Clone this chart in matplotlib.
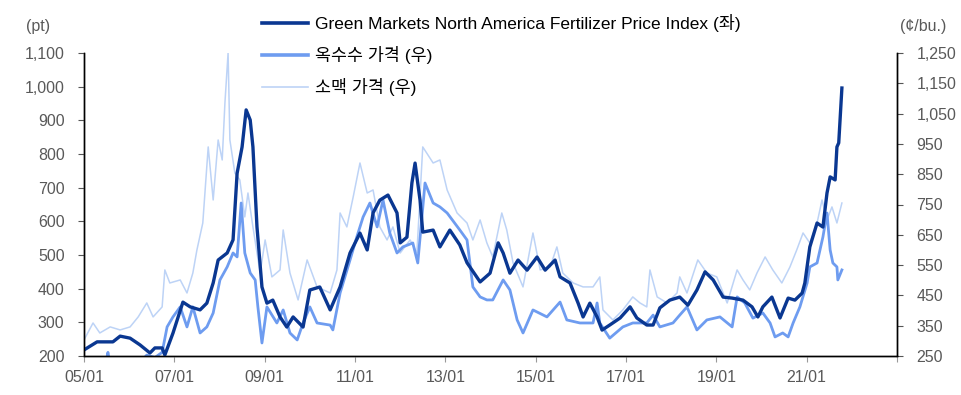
import matplotlib
matplotlib.use("Agg")
import matplotlib.pyplot as plt
from matplotlib.lines import Line2D

# Green Markets North America Fertilizer Price Index (left axis, pt)
fert_t = [2005.00, 2005.29, 2005.64, 2005.80, 2006.02, 2006.24, 2006.46, 2006.57, 2006.73, 2006.79,
          2006.97, 2007.19, 2007.35, 2007.57, 2007.72, 2007.86, 2007.97, 2008.17, 2008.30, 2008.39,
          2008.50, 2008.59, 2008.68, 2008.74, 2008.83, 2008.94, 2009.05, 2009.18, 2009.34, 2009.49,
          2009.63, 2009.85, 2010.00, 2010.22, 2010.45, 2010.67, 2010.89, 2011.11, 2011.27, 2011.40,
          2011.55, 2011.73, 2011.93, 2012.00, 2012.15, 2012.26, 2012.33, 2012.44, 2012.50, 2012.73,
          2012.88, 2013.10, 2013.32, 2013.48, 2013.77, 2013.99, 2014.17, 2014.28, 2014.43, 2014.61,
          2014.81, 2015.03, 2015.21, 2015.43, 2015.54, 2015.76, 2015.94, 2016.05, 2016.20, 2016.36,
          2016.47, 2016.64, 2016.87, 2017.09, 2017.24, 2017.46, 2017.60, 2017.75, 2017.97, 2018.19,
          2018.37, 2018.57, 2018.75, 2018.93, 2019.15, 2019.35, 2019.59, 2019.79, 2019.92, 2020.03,
          2020.23, 2020.41, 2020.59, 2020.74, 2020.90, 2020.96, 2021.07, 2021.23, 2021.36, 2021.45,
          2021.52, 2021.63, 2021.67, 2021.71, 2021.78]
fert = [218, 242, 242, 259, 253, 233, 209, 224, 224, 203,
        268, 360, 346, 337, 357, 417, 485, 506, 545, 743,
        821, 931, 901, 821, 583, 405, 357, 366, 316, 286,
        316, 286, 396, 405, 337, 405, 506, 565, 515, 625,
        663, 678, 625, 536, 553, 714, 773, 663, 568, 574,
        524, 574, 530, 477, 420, 446, 536, 506, 446, 485,
        455, 494, 455, 485, 435, 417, 357, 316, 357, 316,
        277, 292, 313, 346, 313, 292, 292, 343, 366, 375,
        351, 396, 450, 426, 375, 372, 366, 346, 316, 346,
        375, 313, 372, 366, 387, 417, 524, 595, 583, 684,
        732, 723, 821, 833, 996]

# 옥수수 가격 (right axis, c/bu.)
corn_t = [2005.00, 2005.35, 2005.50, 2005.53, 2005.56, 2005.80, 2006.02, 2006.31, 2006.39, 2006.57,
          2006.73, 2006.84, 2006.97, 2007.13, 2007.28, 2007.41, 2007.57, 2007.72, 2007.86, 2008.01,
          2008.17, 2008.30, 2008.39, 2008.48, 2008.56, 2008.68, 2008.79, 2008.85, 2008.94, 2009.05,
          2009.27, 2009.41, 2009.56, 2009.72, 2009.85, 2010.00, 2010.16, 2010.45, 2010.51, 2010.67,
          2010.89, 2011.04, 2011.18, 2011.33, 2011.49, 2011.62, 2011.77, 2011.93, 2012.06, 2012.28,
          2012.39, 2012.55, 2012.73, 2012.88, 2013.04, 2013.32, 2013.48, 2013.61, 2013.77, 2013.92,
          2014.05, 2014.28, 2014.43, 2014.59, 2014.72, 2014.94, 2015.25, 2015.54, 2015.69, 2015.98,
          2016.27, 2016.36, 2016.42, 2016.64, 2016.93, 2017.15, 2017.46, 2017.60, 2017.75, 2018.04,
          2018.19, 2018.35, 2018.57, 2018.79, 2019.08, 2019.35, 2019.46, 2019.63, 2019.81, 2020.03,
          2020.19, 2020.30, 2020.47, 2020.59, 2020.70, 2020.85, 2021.01, 2021.07, 2021.23, 2021.36,
          2021.45, 2021.52, 2021.58, 2021.67, 2021.69, 2021.78]
corn = [210, 215, 240, 262, 235, 210, 215, 240, 253, 245,
        262, 346, 379, 412, 346, 412, 326, 346, 392, 501,
        544, 590, 577, 755, 590, 524, 501, 412, 293, 412,
        359, 402, 326, 303, 359, 412, 359, 352, 336, 458,
        567, 643, 709, 755, 676, 765, 656, 590, 610, 623,
        557, 821, 755, 742, 722, 666, 633, 478, 445, 435,
        435, 501, 468, 369, 326, 402, 379, 428, 369, 359,
        359, 425, 359, 309, 346, 359, 359, 385, 346, 359,
        385, 412, 336, 369, 379, 346, 445, 425, 375, 392,
        359, 313, 326, 313, 359, 412, 491, 544, 557, 643,
        722, 600, 557, 544, 501, 534]

# 소맥 가격 (right axis, c/bu.)
wheat_t = [2005.00, 2005.20, 2005.35, 2005.58, 2005.80, 2006.02, 2006.20, 2006.39, 2006.53, 2006.73,
           2006.79, 2006.90, 2007.13, 2007.28, 2007.41, 2007.50, 2007.63, 2007.75, 2007.86, 2007.97,
           2008.06, 2008.12, 2008.19, 2008.23, 2008.34, 2008.45, 2008.56, 2008.63, 2008.74, 2008.90,
           2009.01, 2009.16, 2009.34, 2009.41, 2009.56, 2009.74, 2009.94, 2010.16, 2010.45, 2010.60,
           2010.67, 2010.82, 2010.96, 2011.11, 2011.27, 2011.40, 2011.55, 2011.71, 2011.84, 2012.00,
           2012.22, 2012.37, 2012.50, 2012.73, 2012.88, 2013.04, 2013.26, 2013.48, 2013.61, 2013.77,
           2013.92, 2014.05, 2014.25, 2014.36, 2014.50, 2014.72, 2014.94, 2015.10, 2015.32, 2015.47,
           2015.60, 2015.83, 2016.05, 2016.27, 2016.42, 2016.49, 2016.71, 2016.93, 2017.15, 2017.31,
           2017.46, 2017.53, 2017.69, 2017.91, 2018.13, 2018.19, 2018.35, 2018.59, 2018.79, 2019.01,
           2019.24, 2019.46, 2019.59, 2019.74, 2019.90, 2020.08, 2020.25, 2020.45, 2020.63, 2020.78,
           2020.92, 2021.07, 2021.23, 2021.34, 2021.45, 2021.56, 2021.67, 2021.78]
wheat = [303, 359, 326, 346, 336, 346, 379, 425, 379, 412,
         534, 491, 501, 458, 524, 600, 689, 940, 765, 963,
         897, 1085, 1250, 963, 854, 831, 709, 788, 676, 524,
         633, 511, 534, 666, 524, 435, 567, 478, 458, 534,
         722, 676, 775, 887, 788, 798, 676, 633, 676, 590,
         633, 590, 940, 887, 897, 798, 722, 689, 633, 699,
         623, 577, 722, 666, 557, 478, 656, 534, 544, 610,
         524, 491, 478, 478, 511, 402, 369, 402, 445, 425,
         412, 534, 445, 425, 458, 511, 458, 567, 524, 511,
         425, 534, 501, 468, 524, 577, 534, 491, 544, 600,
         656, 623, 689, 765, 699, 742, 689, 755]

labels = ["Green Markets North America Fertilizer Price Index (좌)", "옥수수 가격 (우)", "소맥 가격 (우)"]
colors = ["#0A3791", "#6E9CF0", "#BDD3F6"]
xtick_years = list(range(2005, 2024, 2))
left_ticks = list(range(200, 1101, 100))
right_ticks = list(range(250, 1251, 100))

plt.rcParams["font.family"] = ["Liberation Sans", "Noto Sans CJK KR", "DejaVu Sans"]
gray = "#595959"

fig = plt.figure(figsize=(9.61, 3.95), dpi=100)
ax = fig.add_axes([84 / 961, 1 - 356 / 395, (897 - 84) / 961, (356 - 53) / 395])
ax2 = ax.twinx()

ax2.plot(wheat_t, wheat, color=colors[2], lw=1.1)
ax2.plot(corn_t, corn, color=colors[1], lw=2.0)
ax.plot(fert_t, fert, color=colors[0], lw=2.4)
# fertilizer line on top of the right-axis lines
ax.set_zorder(ax2.get_zorder() + 1)
ax.patch.set_visible(False)

ax.set_xlim(2005, 2023)
ax.set_ylim(200, 1100)
ax2.set_ylim(250, 1250)

ax.set_xticks(xtick_years)
ax.set_xticklabels([f"{y % 100:02d}/01" if y < 2023 else "" for y in xtick_years])
ax.set_yticks(left_ticks)
ax.set_yticklabels([f"{v:,}" for v in left_ticks])
ax2.set_yticks(right_ticks)
ax2.set_yticklabels([f"{v:,}" for v in right_ticks])

for a in (ax, ax2):
    a.spines["top"].set_visible(False)
    for s in a.spines.values():
        s.set_linewidth(1.0)
        s.set_color("black")
ax.tick_params(axis="x", direction="out", length=4, pad=6, labelsize=11.5, colors=gray)
ax.tick_params(axis="x", color="#999999")
ax.tick_params(axis="y", direction="out", length=4, pad=10, labelsize=11.5, labelcolor=gray, color="#555555")
ax2.tick_params(axis="y", direction="out", length=4, pad=10, labelsize=11.5, labelcolor=gray, color="#555555")

fig.text(38 / 961, 1 - 26 / 395, "(pt)", ha="center", va="center", fontsize=11.5, color=gray)
fig.text(923 / 961, 1 - 26 / 395, "(¢/bu.)", ha="center", va="center", fontsize=11.5, color=gray)

handles = [Line2D([], [], color=colors[0], lw=2.6),
           Line2D([], [], color=colors[1], lw=2.6),
           Line2D([], [], color=colors[2], lw=1.2)]
fig.legend(handles, labels, loc="upper left", bbox_to_anchor=(262 / 961, 1 - 14 / 395),
           frameon=False, fontsize=12.5, handlelength=2.65, handletextpad=0.4,
           labelspacing=0.8, borderaxespad=0, borderpad=0)

fig.savefig("out.png", dpi=100)
